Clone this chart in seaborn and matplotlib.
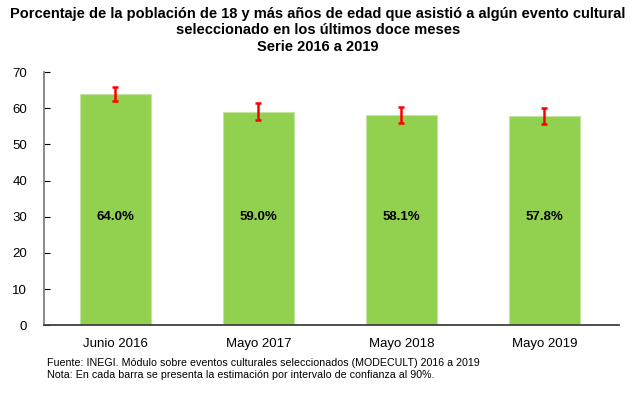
import numpy as np
import pandas as pd
import matplotlib
matplotlib.use('Agg')
import matplotlib.pyplot as plt
import seaborn as sns

# ── data ─────────────────────────────────────────────
periodos = ['Junio 2016', 'Mayo 2017', 'Mayo 2018', 'Mayo 2019']
porcentaje = [64.0, 59.0, 58.1, 57.8]
limite_inf = [62.1, 56.8, 55.8, 55.5]
limite_sup = [65.9, 61.3, 60.4, 60.1]
y_ticks = [0, 10, 20, 30, 40, 50, 60, 70]

df = pd.DataFrame({'periodo': periodos, 'pct': porcentaje})

sns.set_style('white')
plt.rcParams['font.family'] = ['Liberation Sans', 'DejaVu Sans']
plt.rcParams['text.color'] = 'black'
plt.rcParams['xtick.color'] = 'black'
plt.rcParams['ytick.color'] = 'black'

fig = plt.figure(figsize=(6.36, 3.98), dpi=100)
ax = fig.add_axes([0.069, 0.183, 0.904, 0.636])

sns.barplot(data=df, x='periodo', y='pct', color='#92D050', width=0.5,
            saturation=1, errorbar=None, edgecolor='#C4E3A0', linewidth=0.8, ax=ax)

err_lo = np.array(porcentaje) - np.array(limite_inf)
err_hi = np.array(limite_sup) - np.array(porcentaje)
ax.errorbar(np.arange(len(periodos)), porcentaje, yerr=[err_lo, err_hi],
            fmt='none', ecolor='#FF0000', elinewidth=1.8, capsize=2.5, capthick=1.8)

for i, v in enumerate(porcentaje):
    ax.text(i, 30, f'{v:.1f}%', ha='center', va='center',
            fontsize=9.5, fontweight='bold', color='black')

ax.set_ylim(0, 70)
ax.set_xlim(-0.5, 3.52)
ax.set_yticks(y_ticks)
ax.set_xlabel('')
ax.set_ylabel('')
ax.tick_params(axis='y', left=True, direction='in', length=4, width=0.8,
               color='black', labelcolor='black', labelsize=9.5, pad=12)
ax.tick_params(axis='x', bottom=False, labelcolor='black', labelsize=9.5, pad=6)
sns.despine(ax=ax)
ax.spines['left'].set_color('#808080')
ax.spines['left'].set_linewidth(1.3)
ax.spines['bottom'].set_color('#404040')
ax.spines['bottom'].set_linewidth(1.3)

fig.text(0.5, 0.982, 'Porcentaje de la población de 18 y más años de edad que asistió a algún evento cultural\n'
         'seleccionado en los últimos doce meses\nSerie 2016 a 2019',
         ha='center', va='top', fontsize=10.55, fontweight='bold', linespacing=1.2)

fig.text(0.074, 0.072, 'Fuente: INEGI. Módulo sobre eventos culturales seleccionados (MODECULT) 2016 a 2019\n'
         'Nota: En cada barra se presenta la estimación por intervalo de confianza al 90%.',
         ha='left', va='center', fontsize=7.7, linespacing=1.25)

fig.savefig('out.png', dpi=100)
